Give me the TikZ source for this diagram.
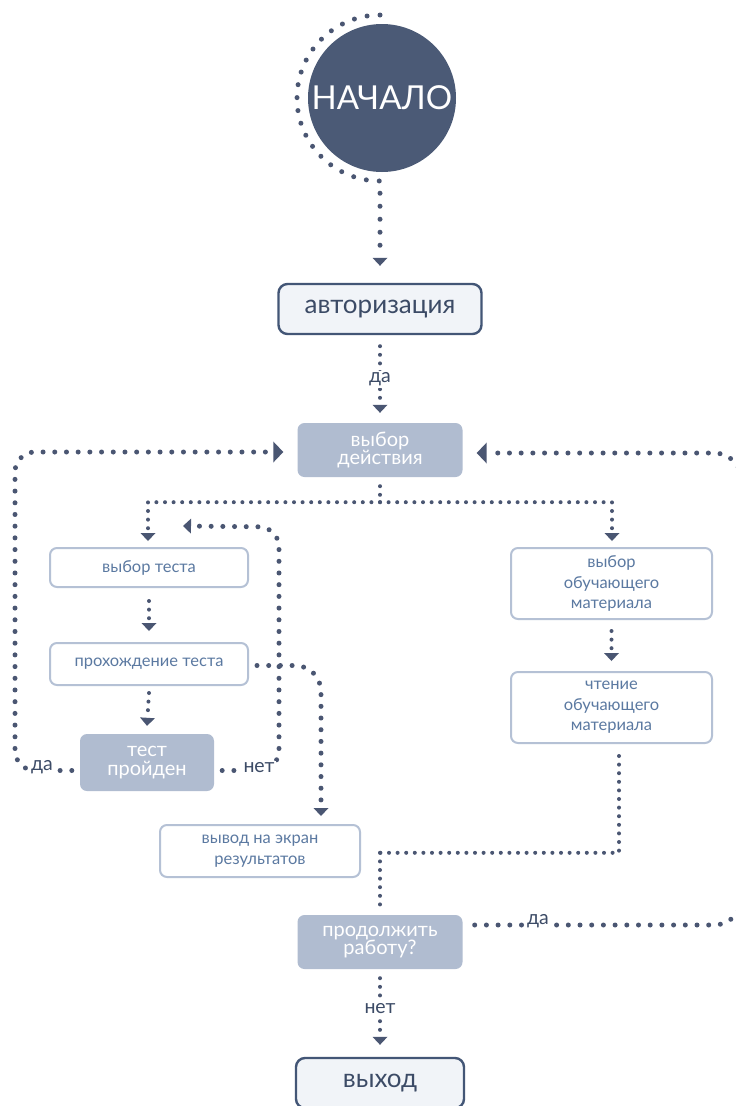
\documentclass[tikz,border=0pt]{standalone}
\usepackage{fontspec}
\setmainfont{Lato}
\usetikzlibrary{arrows.meta,calc}
\definecolor{dark}{HTML}{4A5672}
\definecolor{circ}{HTML}{4B5A76}
\definecolor{grayfill}{HTML}{B0BCD0}
\definecolor{lborder}{HTML}{B5C1D5}
\definecolor{ltext}{HTML}{5B79A1}
\definecolor{lightfill}{HTML}{F1F4F8}
\definecolor{dborder}{HTML}{435676}
\definecolor{dtext}{HTML}{3C4B66}
\begin{document}
\begin{tikzpicture}[x=1pt,y=-1pt,
  dots/.style={draw=dark, line width=4pt, line cap=round, dash pattern=on 0pt off 8.6pt},
  bigdots/.style={draw=dark, line width=5pt, line cap=round, dash pattern=on 0pt off 11.7pt},
  arcdots/.style={draw=dark, line width=5pt, line cap=round, dash pattern=on 0pt off 13pt},
  tip/.style={-{Triangle[width=15pt,length=8pt,line width=0pt]}},
  bigtip/.style={-{Triangle[width=21pt,length=10pt,line width=0pt]}},
  darkbox/.style={rounded corners=9pt, fill=lightfill, draw=dborder, line width=2.4pt, text=dtext, font=\fontsize{26}{28}\selectfont},
  graybox/.style={rounded corners=7pt, fill=grayfill, text=white, align=center, inner sep=0pt, font=\fontsize{20}{18.5}\selectfont},
  lightbox/.style={rounded corners=7pt, fill=white, draw=lborder, line width=2pt, text=ltext, align=center, inner sep=0pt, font=\fontsize{16.5}{20.5}\selectfont},
  lbl/.style={fill=white, inner sep=1.5pt, text=dtext, font=\fontsize{19.5}{20}\selectfont}
]
\fill[white] (0,0) rectangle (736,1106);
\useasboundingbox (0,0) rectangle (736,1106);

% nodes
\node[circle, fill=circ, minimum size=148pt, inner sep=0pt, text=white, font=\fontsize{33}{33}\selectfont] (start) at (382,98) {НАЧАЛО};
\node[darkbox, minimum width=203pt, minimum height=50pt] (avt) at (380,309) {авторизация};
\node[graybox, minimum width=165pt, minimum height=54pt] (vd) at (380,450) {выбор\\действия};
\node[lightbox, minimum width=198pt, minimum height=39pt] (vt) at (149,567.5) {выбор теста};
\node[lightbox, minimum width=198pt, minimum height=42pt] (pt) at (149,664) {прохождение теста};
\node[graybox, minimum width=134pt, minimum height=57pt] (tp) at (147,762.5) {тест\\пройден};
\node[lightbox, minimum width=200pt, minimum height=52pt] (vr) at (260,851) {вывод на экран\\результатов};
\node[lightbox, minimum width=201pt, minimum height=71pt] (vom) at (611.5,583.5) {выбор\\обучающего\\материала};
\node[lightbox, minimum width=201pt, minimum height=71pt] (com) at (611.5,707.5) {чтение\\обучающего\\материала};
\node[graybox, minimum width=165pt, minimum height=54pt] (pr) at (380,942) {продолжить\\работу?};
\node[darkbox, minimum width=168pt, minimum height=50pt] (vyh) at (380,1083) {выход};

% start -> avt
\draw[arcdots,tip] ($(start.center)+(-2,-83)$) arc[start angle=270, end angle=90, radius=83] -- ($(avt.north)+(0,-17)$);

% avt -> vd
\draw[dots,tip] ($(avt.south)+(0,11)$) -- node[lbl]{да} ($(vd.north)+(0,-10)$);

% vd -> branches
\coordinate (br) at ($(vd.south)+(0,25)$);
\draw[dots] ($(vd.south)+(0,9)$) -- (br);
\draw[dots,tip] (br) -| ($(vt.north)+(-1,-6)$);
\draw[dots,tip] (br) -| ($(vom.north)+(0.5,-6)$);

% vt -> pt -> tp
\draw[dots,tip] ($(vt.south)+(0,13)$) -- ($(pt.north)+(0,-11)$);
\draw[dots,tip] ($(pt.south)+(0,7)$) -- ($(tp.north)+(0,-8)$);

% tp -> yes loop -> vd
\draw[bigdots,bigtip,rounded corners=20pt] ($(tp.west)+(-8,8)$) -- (15,770.5) -- (15,452) -- ($(vd.west)+(-14,2)$);
\node[lbl] (lda) at (42,767.5) {да};

% tp -> no loop -> vt
\coordinate (rt) at ($(vt.north)+(34,-21)$);
\draw[bigdots,tip,rounded corners=20pt] ($(tp.east)+(8,8)$) -- (279,770.5) -- (279,527) -- (rt);
\node[lbl] (lnet) at (259,767.5) {нет};

% pt -> vr
\draw[bigdots,tip,rounded corners=26pt] ($(pt.east)+(8,1.5)$) -- (321,665.5) -- ($(vr.north)+(61,-8)$);

% vom -> com
\draw[dots,tip] ($(vom.south)+(0,11)$) -- ($(com.north)+(0,-10)$);

% com -> pr
\coordinate (jn) at ($(pr.north)+(0,-62)$);
\draw[dots] ($(com.south)+(7.5,12)$) |- ($(jn)+(-8,0)$);
\draw[dots] (jn) -- ($(pr.north)+(0,-9)$);

% pr -> yes loop -> vd
\draw[bigdots,bigtip,rounded corners=28pt] ($(pr.east)+(12,-17)$) -- (742,925) -- (742,453) -- ($(vd.east)+(14,3)$);
\node[lbl] (lda2) at (538,921.5) {да};

% pr -> vyh
\draw[dots,tip] ($(pr.south)+(0,9)$) -- node[lbl,pos=0.45]{нет} ($(vyh.north)+(0,-12)$);
\end{tikzpicture}
\end{document}
